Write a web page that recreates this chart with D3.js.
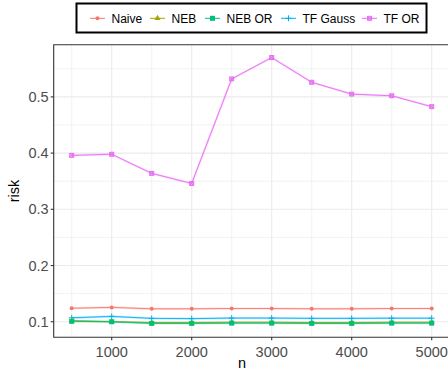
<!DOCTYPE html>
<html>
<head>
<meta charset="utf-8">
<script src="https://cdn.jsdelivr.net/npm/d3@7"></script>
<style>
  body { margin: 0; background: #fff; }
  text { font-family: "Liberation Sans", Arial, sans-serif; }
</style>
</head>
<body>
<div id="chart"></div>
<script>
// data
const ns = [500, 1000, 1500, 2000, 2500, 3000, 3500, 4000, 4500, 5000];
const naive = [0.124, 0.1255, 0.123, 0.123, 0.1235, 0.1235, 0.123, 0.123, 0.1235, 0.1235];
const neb = [0.102, 0.1, 0.0985, 0.0985, 0.099, 0.099, 0.0985, 0.0985, 0.099, 0.099];
const nebOr = [0.1007, 0.1, 0.097, 0.097, 0.0975, 0.0975, 0.097, 0.097, 0.0975, 0.0975];
const tfGauss = [0.107, 0.1095, 0.106, 0.1055, 0.1065, 0.1065, 0.106, 0.106, 0.1063, 0.1063];
const tfOr = [0.396, 0.398, 0.364, 0.346, 0.532, 0.570, 0.526, 0.505, 0.502, 0.4826];

const seriesNames = ["Naive", "NEB", "NEB OR", "TF Gauss", "TF OR"];
const seriesValues = [naive, neb, nebOr, tfGauss, tfOr];
const colors = ["#F8766D", "#A3A500", "#00BF7D", "#00B0F6", "#E76BF3"];
const shapes = ["circle", "triangle", "square", "plus", "squarecross"];

const xTicks = [1000, 2000, 3000, 4000, 5000];
const yTicks = [0.1, 0.2, 0.3, 0.4, 0.5];

const W = 448, H = 373;
const svg = d3.select("#chart").append("svg").attr("width", W).attr("height", H);

// panel extent follows ggplot's 5% expansion
const x = d3.scaleLinear().domain([275, 5225]).range([53.7, 449.7]);
const y = d3.scaleLinear().domain([0.0723, 0.5927]).range([337.3, 44.8]);

const panel = svg.append("g");

// minor grid
const xMinor = d3.range(500, 5001, 1000);
const yMinor = [0.15, 0.25, 0.35, 0.45, 0.55];
panel.selectAll(".xminor").data(xMinor).join("line")
  .attr("x1", d => x(d)).attr("x2", d => x(d)).attr("y1", y.range()[0]).attr("y2", y.range()[1])
  .attr("stroke", "#ebebeb").attr("stroke-width", 0.6);
panel.selectAll(".yminor").data(yMinor).join("line")
  .attr("y1", d => y(d)).attr("y2", d => y(d)).attr("x1", x.range()[0]).attr("x2", x.range()[1])
  .attr("stroke", "#ebebeb").attr("stroke-width", 0.6);
// major grid
panel.selectAll(".xmajor").data(xTicks).join("line")
  .attr("x1", d => x(d)).attr("x2", d => x(d)).attr("y1", y.range()[0]).attr("y2", y.range()[1])
  .attr("stroke", "#ebebeb").attr("stroke-width", 1.1);
panel.selectAll(".ymajor").data(yTicks).join("line")
  .attr("y1", d => y(d)).attr("y2", d => y(d)).attr("x1", x.range()[0]).attr("x2", x.range()[1])
  .attr("stroke", "#ebebeb").attr("stroke-width", 1.1);

const line = d3.line().x((d, i) => x(ns[i])).y(d => y(d));

function drawShape(g, shape, cx, cy, color) {
  if (shape === "circle") {
    g.append("circle").attr("cx", cx).attr("cy", cy).attr("r", 2).attr("fill", color);
  } else if (shape === "triangle") {
    g.append("path").attr("d", d3.symbol(d3.symbolTriangle, 16)()).attr("transform", `translate(${cx},${cy})`).attr("fill", color);
  } else if (shape === "square") {
    g.append("rect").attr("x", cx - 2.5).attr("y", cy - 2.5).attr("width", 5).attr("height", 5).attr("fill", color);
  } else if (shape === "plus") {
    g.append("path").attr("d", `M${cx - 3},${cy}H${cx + 3}M${cx},${cy - 3}V${cy + 3}`)
      .attr("stroke", color).attr("stroke-width", 1).attr("fill", "none");
  } else {
    g.append("path").attr("d", `M${cx - 2},${cy - 2}h4v4h-4zM${cx - 2},${cy - 2}l4,4M${cx + 2},${cy - 2}l-4,4`)
      .attr("stroke", color).attr("stroke-width", 1).attr("fill", color).attr("fill-opacity", 0.4);
  }
}

const plotOrder = [4, 0, 3, 1, 2];
plotOrder.forEach(k => {
  const g = panel.append("g");
  g.append("path").attr("d", line(seriesValues[k])).attr("fill", "none")
    .attr("stroke", colors[k]).attr("stroke-width", 2.2).attr("stroke-opacity", 0.25);
  g.append("path").attr("d", line(seriesValues[k])).attr("fill", "none")
    .attr("stroke", colors[k]).attr("stroke-width", 0.9);
  seriesValues[k].forEach((v, i) => drawShape(g, shapes[k], x(ns[i]), y(v), colors[k]));
});

// panel border (top, left, bottom)
svg.append("path")
  .attr("d", `M${x.range()[1]},${y.range()[1]}H${x.range()[0]}V${y.range()[0]}H${x.range()[1]}`)
  .attr("fill", "none").attr("stroke", "#333333").attr("stroke-width", 1.1);

// y ticks
const yAx = svg.append("g");
yTicks.forEach(t => {
  yAx.append("line").attr("x1", x.range()[0] - 3).attr("x2", x.range()[0]).attr("y1", y(t)).attr("y2", y(t))
    .attr("stroke", "#333333").attr("stroke-width", 1.1);
  yAx.append("text").attr("x", x.range()[0] - 5).attr("y", y(t)).attr("dy", "0.35em")
    .attr("text-anchor", "end").attr("font-size", 14.5).attr("fill", "#4d4d4d").text(t.toFixed(1));
});
// x ticks
const xAx = svg.append("g");
xTicks.forEach(t => {
  xAx.append("line").attr("x1", x(t)).attr("x2", x(t)).attr("y1", y.range()[0]).attr("y2", y.range()[0] + 3)
    .attr("stroke", "#333333").attr("stroke-width", 1.1);
  xAx.append("text").attr("x", x(t)).attr("y", y.range()[0] + 15).attr("dy", "0.35em")
    .attr("text-anchor", "middle").attr("font-size", 14.5).attr("fill", "#4d4d4d").text(t);
});

svg.append("text").attr("x", 242).attr("y", 368).attr("text-anchor", "middle")
  .attr("font-size", 14.5).attr("fill", "#000").text("n");
svg.append("text").attr("transform", "translate(19,191) rotate(-90)").attr("text-anchor", "middle")
  .attr("font-size", 14.5).attr("fill", "#000").text("risk");

// legend
const legend = svg.append("g");
legend.append("rect").attr("x", 76.5).attr("y", 3.5).attr("width", 350).attr("height", 29)
  .attr("fill", "#fff").attr("stroke", "#000").attr("stroke-width", 2);
const keyX = [90, 150, 205, 281, 362];
seriesNames.forEach((name, k) => {
  const g = legend.append("g");
  const cy = 18.3;
  g.append("line").attr("x1", keyX[k]).attr("x2", keyX[k] + 15).attr("y1", cy).attr("y2", cy)
    .attr("stroke", colors[k]).attr("stroke-width", 1);
  drawShape(g, shapes[k], keyX[k] + 7.5, cy, colors[k]);
  g.append("text").attr("x", keyX[k] + 21.5).attr("y", cy).attr("dy", "0.35em")
    .attr("font-size", 12).attr("fill", "#000").text(name);
});
</script>
</body>
</html>
